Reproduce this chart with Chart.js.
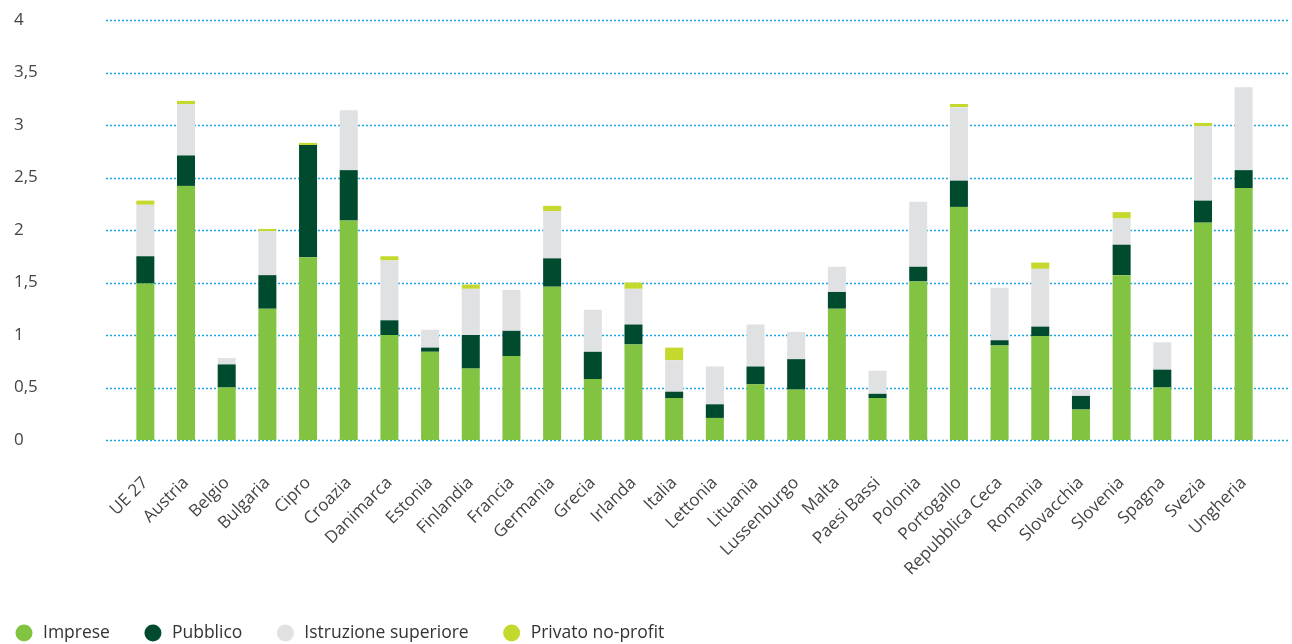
<!DOCTYPE html>
<html lang="it">
<head>
<meta charset="utf-8">
<title>Spesa in R&S per settore</title>
<script src="https://cdn.jsdelivr.net/npm/chart.js@4.4.1/dist/chart.umd.min.js"></script>
<style>
  html, body { margin: 0; padding: 0; background: #fff; }
  #wrap { width: 1292px; height: 644px; position: relative; }
</style>
</head>
<body>
<div id="wrap"><canvas id="rdChart"></canvas></div>
<script>
const paesi = ['UE 27', 'Austria', 'Belgio', 'Bulgaria', 'Cipro', 'Croazia', 'Danimarca', 'Estonia',
  'Finlandia', 'Francia', 'Germania', 'Grecia', 'Irlanda', 'Italia', 'Lettonia', 'Lituania',
  'Lussenburgo', 'Malta', 'Paesi Bassi', 'Polonia', 'Portogallo', 'Repubblica Ceca', 'Romania',
  'Slovacchia', 'Slovenia', 'Spagna', 'Svezia', 'Ungheria'];

const imprese = [1.49, 2.42, 0.50, 1.25, 1.74, 2.09, 1.00, 0.84, 0.68, 0.80, 1.46, 0.58, 0.91, 0.40,
  0.21, 0.53, 0.48, 1.25, 0.40, 1.51, 2.22, 0.90, 0.99, 0.29, 1.57, 0.50, 2.07, 2.40];
const pubblico = [0.26, 0.29, 0.22, 0.32, 1.07, 0.48, 0.14, 0.04, 0.32, 0.24, 0.27, 0.26, 0.19, 0.06,
  0.13, 0.17, 0.29, 0.16, 0.04, 0.14, 0.25, 0.05, 0.09, 0.13, 0.29, 0.17, 0.21, 0.17];
const istruzione = [0.49, 0.49, 0.06, 0.42, 0, 0.57, 0.57, 0.17, 0.44, 0.39, 0.45, 0.40, 0.34, 0.30,
  0.36, 0.40, 0.26, 0.24, 0.22, 0.62, 0.70, 0.50, 0.55, 0.06, 0.25, 0.26, 0.71, 0.79];
const privato = [0.04, 0.03, 0, 0.02, 0.02, 0, 0.04, 0, 0.04, 0, 0.05, 0, 0.06, 0.12,
  0, 0, 0, 0, 0, 0, 0.03, 0, 0.06, 0, 0.06, 0, 0.03, 0];

const yMax = 4;
const yStep = 0.5;

// dotted horizontal lines, wider than the bar area
const dottedGrid = {
  id: 'dottedGrid',
  beforeDatasetsDraw(chart) {
    const { ctx, scales: { y } } = chart;
    ctx.save();
    ctx.strokeStyle = '#1ea7e1';
    ctx.lineWidth = 1.5;
    ctx.setLineDash([2, 2]);
    y.ticks.forEach(t => {
      const py = Math.round(y.getPixelForValue(t.value)) + 0.5;
      ctx.beginPath();
      ctx.moveTo(106, py);
      ctx.lineTo(1290, py);
      ctx.stroke();
    });
    ctx.restore();
  }
};

// legend row at the bottom left: dot + label
const dotLegend = {
  id: 'dotLegend',
  afterDraw(chart) {
    const { ctx } = chart;
    const cy = 633;
    let x = 24;
    ctx.save();
    ctx.font = '17.5px "Open Sans"';
    ctx.textBaseline = 'middle';
    ctx.textAlign = 'left';
    chart.data.datasets.forEach(ds => {
      ctx.fillStyle = ds.backgroundColor;
      ctx.beginPath();
      ctx.arc(x, cy, 8.5, 0, Math.PI * 2);
      ctx.fill();
      ctx.fillStyle = '#333';
      ctx.fillText(ds.label, x + 19, cy);
      x += 19 + ctx.measureText(ds.label).width + 43;
    });
    ctx.restore();
  }
};

new Chart('rdChart', {
  type: 'bar',
  data: {
    labels: paesi,
    datasets: [
      { label: 'Imprese', data: imprese, backgroundColor: '#82c341' },
      { label: 'Pubblico', data: pubblico, backgroundColor: '#004b2e' },
      { label: 'Istruzione superiore', data: istruzione, backgroundColor: '#e0e1e3' },
      { label: 'Privato no-profit', data: privato, backgroundColor: '#c5d82e' }
    ]
  },
  options: {
    responsive: true,
    maintainAspectRatio: false,
    animation: false,
    layout: { padding: { left: 14, right: 28, top: 20, bottom: 60 } },
    datasets: {
      bar: { barPercentage: 0.443, categoryPercentage: 1, borderWidth: 0 }
    },
    plugins: {
      tooltip: { enabled: false },
      legend: { display: false }
    },
    scales: {
      x: {
        stacked: true,
        grid: { display: false },
        border: { display: false },
        ticks: {
          minRotation: 45,
          maxRotation: 45,
          autoSkip: false,
          padding: 25,
          color: '#444',
          font: { family: 'Open Sans', size: 17 }
        },
        afterFit(scale) { scale.height = 144; }
      },
      y: {
        stacked: true,
        min: 0,
        max: yMax,
        grid: { display: false },
        border: { display: false },
        ticks: {
          stepSize: yStep,
          crossAlign: 'far',
          color: '#444',
          font: { family: 'Open Sans', size: 17 },
          callback: v => String(v).replace('.', ',')
        },
        afterFit(scale) { scale.width = 111; }
      }
    }
  },
  plugins: [dottedGrid, dotLegend]
});
</script>
</body>
</html>
